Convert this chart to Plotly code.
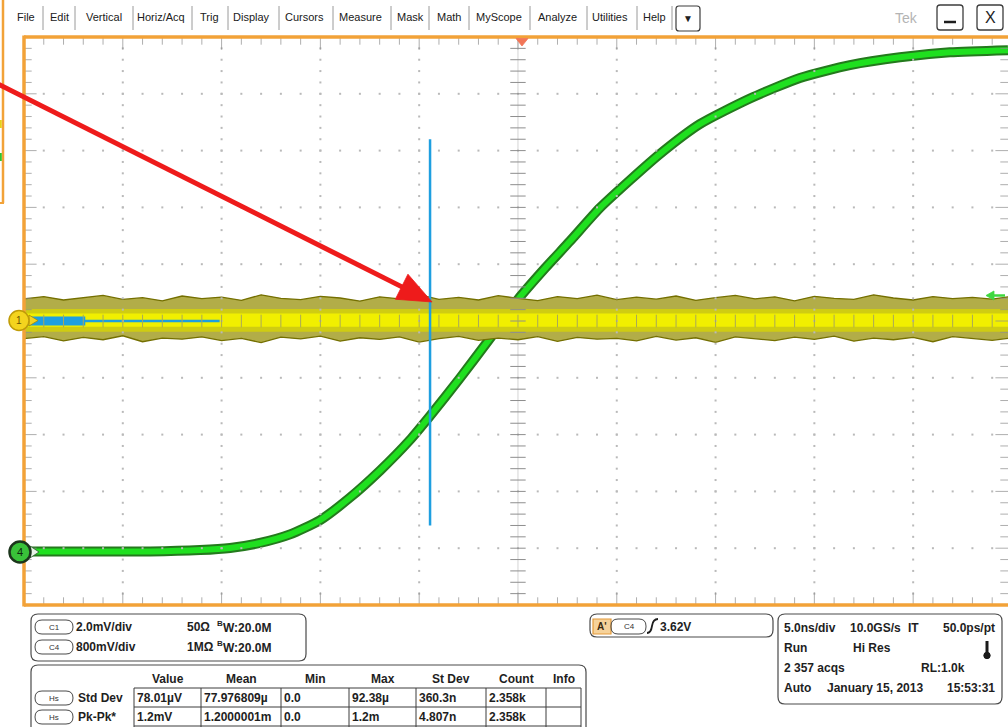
import plotly.graph_objects as go

# ---------------- acquisition settings ----------------
TIME_PER_DIV = 5.0          # ns/div
CH1_PER_DIV = 2.0           # mV/div
CH4_PER_DIV = 0.8           # V/div
CH4_GROUND_DIV = -4.07      # ch4 ground marker, divisions from centre
T_LEFT, T_RIGHT = -25.0, 24.8

# ---------------- channel 4: rising edge (ns, V) ----------------
ch4_t = [-25.0, -21.15, -18.62, -16.09, -14.57, -13.06, -11.54, -10.02, -8.50, -6.98,
         -5.47, -4.45, -2.94, -1.42, 0.0, 1.37, 2.63, 4.15, 5.67, 7.19,
         9.21, 11.74, 14.27, 16.80, 19.33, 21.86, 24.80]
ch4_v = [0.01, 0.01, 0.01, 0.03, 0.06, 0.13, 0.25, 0.45, 0.77, 1.15,
         1.58, 1.92, 2.45, 3.01, 3.56, 4.00, 4.38, 4.85, 5.24, 5.61,
         6.03, 6.39, 6.68, 6.86, 6.97, 7.04, 7.07]

# ---------------- channel 1: noise band envelope (ns, mV) ----------------
ch1_t = [-25, -24, -23, -22, -21, -20, -19, -18, -17, -16, -15, -14, -13, -12, -11,
         -10, -9, -8, -7, -6, -5, -4, -3, -2, -1, 0, 1, 2, 3, 4, 5, 6, 7, 8, 9,
         10, 11, 12, 13, 14, 15, 16, 17, 18, 19, 20, 21, 22, 23, 24, 24.8]
ch1_upper = [0.78, 0.86, 0.74, 0.83, 0.90, 0.76, 0.82, 0.71, 0.88, 0.79,
             0.84, 0.73, 0.92, 0.80, 0.75, 0.87, 0.81, 0.70, 0.85, 0.78,
             0.93, 0.76, 0.83, 0.74, 0.89, 0.80, 0.72, 0.86, 0.79, 0.91,
             0.75, 0.84, 0.77, 0.88, 0.73, 0.82, 0.90, 0.78, 0.85, 0.71,
             0.87, 0.80, 0.76, 0.92, 0.81, 0.74, 0.86, 0.79, 0.83, 0.77, 0.85]
ch1_lower = [-0.62, -0.55, -0.70, -0.58, -0.66, -0.52, -0.73, -0.60, -0.64, -0.56,
             -0.69, -0.61, -0.76, -0.57, -0.63, -0.53, -0.71, -0.59, -0.65, -0.56,
             -0.74, -0.62, -0.54, -0.68, -0.60, -0.66, -0.55, -0.72, -0.58, -0.64,
             -0.61, -0.70, -0.54, -0.67, -0.59, -0.75, -0.56, -0.63, -0.69, -0.57,
             -0.65, -0.53, -0.71, -0.60, -0.66, -0.58, -0.73, -0.55, -0.62, -0.68, -0.61]
ch1_mid = (-0.38, 0.42)     # dense part of the persistence band, mV
ch1_core = (-0.20, 0.26)    # brightest part, mV

# ---------------- histogram box / cursor ----------------
hist_t = -4.45                 # ns
hist_span = (-7.2, 6.4)        # mV
hist_bar_end = -21.9           # ns, wide part of the horizontal histogram
hist_line_end = -15.1          # ns
arrow_tip_mv = 0.67            # where the pointer meets the histogram box, mV

# ---------------- readout text ----------------
menu_items = ["File", "Edit", "Vertical", "Horiz/Acq", "Trig", "Display", "Cursors",
              "Measure", "Mask", "Math", "MyScope", "Analyze", "Utilities", "Help"]
menu_x = [26, 59.5, 103.5, 161, 209, 251.5, 304, 360.5, 410, 449, 499, 557.5, 610, 654]
menu_sep = [43, 75, 133, 192, 228, 279, 333, 391, 429, 469, 530, 587, 637, 672]

vert_rows = [("C1", "2.0mV/div", "50Ω"), ("C4", "800mV/div", "1MΩ")]
bw_text = "W:20.0M"

meas_headers = ["Value", "Mean", "Min", "Max", "St Dev", "Count", "Info"]
meas_rows = [("Std Dev", ["78.01µV", "77.976809µ", "0.0", "92.38µ", "360.3n", "2.358k", ""]),
             ("Pk-Pk*", ["1.2mV", "1.2000001m", "0.0", "1.2m", "4.807n", "2.358k", ""])]
meas_cols = [134, 201, 281, 349, 416, 486, 546, 581]

trig_source, trig_level = "C4", "3.62V"
timebase_lines = [
    [(783, "5.0ns/div", "left"), (849, "10.0GS/s", "left"), (907, "IT", "left"),
     (996, "50.0ps/pt", "right")],
    [(783, "Run", "left"), (852, "Hi Res", "left")],
    [(783, "2 357 acqs", "left"), (966, "RL:1.0k", "right")],
    [(783, "Auto", "left"), (826, "January 15, 2013", "left"), (996, "15:53:31", "right")],
]

# ---------------- page geometry (pixels) ----------------
W, H = 1008, 727
L, T, PW, PH = 24, 37, 984, 568
ORANGE = "#f2a238"
FONT = "Liberation Sans"


def P(x, y):
    return (x - L) / PW, (T + PH - y) / PH


def t_to_px(t):
    return L + (t - T_LEFT) / (T_RIGHT - T_LEFT) * PW


def mv_to_py(mv):
    return T + PH / 2 - mv / CH1_PER_DIV * PH / 10


shapes, annos = [], []


def text(x, y, s, size=12, color="#1e1e1e", anchor="left", bold=True):
    xp, yp = P(x, y)
    annos.append(dict(x=xp, y=yp, xref="paper", yref="paper",
                      text=f"<b>{s}</b>" if bold else s, showarrow=False,
                      xanchor=anchor, yanchor="middle", borderpad=0,
                      font=dict(size=size, color=color, family=FONT)))


def seg(x0, y0, x1, y1, color, width=1.0):
    a, b = P(x0, y0), P(x1, y1)
    shapes.append(dict(type="line", xref="paper", yref="paper", x0=a[0], y0=a[1],
                       x1=b[0], y1=b[1], line=dict(color=color, width=width)))


def rrect(x0, y0, x1, y1, r, color="#4a4a4a", width=1.2, fill="rgba(0,0,0,0)"):
    def p(x, y):
        a = P(x, y)
        return f"{a[0]:.5f},{a[1]:.5f}"
    path = (f"M {p(x0 + r, y0)} L {p(x1 - r, y0)} Q {p(x1, y0)} {p(x1, y0 + r)} "
            f"L {p(x1, y1 - r)} Q {p(x1, y1)} {p(x1 - r, y1)} L {p(x0 + r, y1)} "
            f"Q {p(x0, y1)} {p(x0, y1 - r)} L {p(x0, y0 + r)} Q {p(x0, y0)} {p(x0 + r, y0)} Z")
    shapes.append(dict(type="path", xref="paper", yref="paper", path=path,
                       line=dict(color=color, width=width), fillcolor=fill))


def poly(pts, fill, color=None, width=0.8):
    path = "M " + " L ".join("{:.5f},{:.5f}".format(*P(x, y)) for x, y in pts) + " Z"
    shapes.append(dict(type="path", xref="paper", yref="paper", path=path,
                       fillcolor=fill, line=dict(color=color or fill, width=width)))


def circle(cx, cy, r, fill, color, width):
    a, b = P(cx - r, cy + r), P(cx + r, cy - r)
    shapes.append(dict(type="circle", xref="paper", yref="paper", x0=a[0], y0=a[1],
                       x1=b[0], y1=b[1], fillcolor=fill, line=dict(color=color, width=width)))


def arrow(x0, y0, x1, y1, color, width, head_len, head_half):
    dx, dy = x1 - x0, y1 - y0
    n = (dx * dx + dy * dy) ** 0.5
    ux, uy = dx / n, dy / n
    bx, by = x1 - head_len * ux, y1 - head_len * uy
    seg(x0, y0, bx + 2 * ux, by + 2 * uy, color, width)
    poly([(x1, y1), (bx - head_half * uy, by + head_half * ux),
          (bx + head_half * uy, by - head_half * ux)], color)


fig = go.Figure()

# ---------------- graticule (y in divisions) ----------------
major_t = [k * TIME_PER_DIV for k in (-4, -3, -2, -1, 1, 2, 3, 4)]
minor_t = [T_LEFT + k * TIME_PER_DIV / 5 for k in range(50)]
major_d = [-4, -3, -2, -1, 1, 2, 3, 4]
minor_d = [round(-5 + k * 0.2, 3) for k in range(51)]


def is_major(v):
    return abs(round(v) - v) < 1e-6


# centre cross lines, beneath the traces
fig.add_trace(go.Scatter(x=[0, 0], y=[-5, 5], mode="lines", hoverinfo="skip",
                         line=dict(color="#d4d4d4", width=1)))
fig.add_trace(go.Scatter(x=[T_LEFT, T_RIGHT], y=[0, 0], mode="lines", hoverinfo="skip",
                         line=dict(color="#d4d4d4", width=1)))

# ---------------- channel 4 (green), overlay y2 ----------------
fig.add_trace(go.Scatter(x=ch4_t, y=ch4_v, yaxis="y2", mode="lines", hoverinfo="skip",
                         line=dict(color="#247a1d", width=10, shape="spline", smoothing=0.6)))
fig.add_trace(go.Scatter(x=ch4_t, y=ch4_v, yaxis="y2", mode="lines", hoverinfo="skip",
                         line=dict(color="#1fe01f", width=6, shape="spline", smoothing=0.6)))

# ---------------- channel 1 (yellow persistence band), overlay y3 ----------------
fig.add_trace(go.Scatter(x=ch1_t, y=ch1_lower, yaxis="y3", mode="lines", hoverinfo="skip",
                         line=dict(color="#746f00", width=1.3)))
fig.add_trace(go.Scatter(x=ch1_t, y=ch1_upper, yaxis="y3", mode="lines", fill="tonexty",
                         hoverinfo="skip", fillcolor="#b2ad48", line=dict(color="#746f00", width=1.3)))
fig.add_trace(go.Scatter(x=[T_LEFT, T_RIGHT], y=[ch1_mid[0]] * 2, yaxis="y3", mode="lines",
                         hoverinfo="skip", line=dict(width=0, color="#cfcc12")))
fig.add_trace(go.Scatter(x=[T_LEFT, T_RIGHT], y=[ch1_mid[1]] * 2, yaxis="y3", mode="lines",
                         fill="tonexty", hoverinfo="skip", fillcolor="#cfcc12",
                         line=dict(width=0, color="#cfcc12")))
fig.add_trace(go.Scatter(x=[T_LEFT, T_RIGHT], y=[ch1_core[0]] * 2, yaxis="y3", mode="lines",
                         hoverinfo="skip", line=dict(width=0, color="#f1ef00")))
fig.add_trace(go.Scatter(x=[T_LEFT, T_RIGHT], y=[ch1_core[1]] * 2, yaxis="y3", mode="lines",
                         fill="tonexty", hoverinfo="skip", fillcolor="#f1ef00",
                         line=dict(width=0, color="#f1ef00")))

# histogram (blue)
fig.add_trace(go.Scatter(x=[hist_t, hist_t], y=list(hist_span), yaxis="y3", mode="lines",
                         hoverinfo="skip", line=dict(color="#1e9fe0", width=2.5)))
fig.add_trace(go.Scatter(x=[T_LEFT, hist_line_end], y=[0, 0], yaxis="y3", mode="lines",
                         hoverinfo="skip", line=dict(color="#1e9fe0", width=2.5)))
fig.add_trace(go.Scatter(x=[T_LEFT, hist_bar_end], y=[0, 0], yaxis="y3", mode="lines",
                         hoverinfo="skip", line=dict(color="#1e9fe0", width=9)))

# ---------------- graticule dots and ticks, on top (overlay y4) ----------------
dot_x, dot_y = [], []
for tx in major_t:
    for dv in minor_d[1:-1]:
        dot_x.append(tx); dot_y.append(dv)
for dv in major_d:
    for tt in minor_t[1:]:
        dot_x.append(tt); dot_y.append(dv)
fig.add_trace(go.Scatter(x=dot_x, y=dot_y, yaxis="y4", mode="markers", hoverinfo="skip",
                         marker=dict(symbol="square", size=2, color="#b9b9b9")))
fig.add_trace(go.Scatter(x=[0] * len(minor_d), y=minor_d, yaxis="y4", mode="markers",
                         hoverinfo="skip",
                         marker=dict(symbol="line-ew", size=11, line=dict(width=1, color="#8e8e8e"))))
fig.add_trace(go.Scatter(x=minor_t, y=[0] * len(minor_t), yaxis="y4", mode="markers",
                         hoverinfo="skip",
                         marker=dict(symbol="line-ns", size=9, line=dict(width=1, color="#a8a85a"))))
for xe in (T_LEFT, T_RIGHT):
    fig.add_trace(go.Scatter(x=[xe] * len(minor_d), y=minor_d, yaxis="y4", mode="markers",
                             hoverinfo="skip",
                             marker=dict(symbol="line-ew",
                                         size=[18 if is_major(v) else 11 for v in minor_d],
                                         line=dict(width=1, color="#8e8e8e"))))
for ye in (-5, 5):
    fig.add_trace(go.Scatter(x=minor_t, y=[ye] * len(minor_t), yaxis="y4", mode="markers",
                             hoverinfo="skip",
                             marker=dict(symbol="line-ns",
                                         size=[18 if is_major(v / TIME_PER_DIV) else 11 for v in minor_t],
                                         line=dict(width=1, color="#8e8e8e"))))

# ---------------- frame and markers ----------------
seg(L, T, W, T, ORANGE, 3.5)
seg(L, T - 1.5, L, T + PH + 1.5, ORANGE, 3.5)
seg(L, T + PH, W, T + PH, ORANGE, 3.5)

# trigger position marker
poly([(516, 38.5), (528, 38.5), (522, 46)], "#f27658")
# trigger level arrow on the right edge
seg(992, 295.5, 1005, 295.5, "#3fd83f", 2.5)
poly([(986, 295.5), (994, 291), (994, 300)], "#3fd83f")

# channel ground markers
poly([(29, 315), (29, 326), (38, 320.5)], "#f4d41e", "#a68a00")
circle(19, 320.5, 10, "#f4d41e", "#c09c08", 1.5)
text(19, 320.5, "1", size=10, color="#6b5400", anchor="center", bold=False)
poly([(30, 546), (30, 558), (39, 552)], "#e8f4e8", "#2d5a2d")
circle(20, 552, 10.5, "#39c239", "#1c361c", 2.5)
text(20, 552, "4", size=11, color="#0e2a0e", anchor="center", bold=False)

# window edge behind, at the far left
seg(3, 0, 3, 203, ORANGE, 2.5)
seg(0, 203, 4, 203, ORANGE, 2)
seg(0.8, 120, 0.8, 128, "#e6d21a", 2)
seg(0.8, 153, 0.8, 161, "#2fc42f", 2)

# red pointer to the histogram box
tip_x, tip_y = t_to_px(hist_t) + 2, mv_to_py(arrow_tip_mv)
arrow(-2, 84, tip_x, tip_y, "#ee1b1b", 5, 34, 14)

# ---------------- menu bar ----------------
for s, x in zip(menu_items, menu_x):
    text(x, 17.5, s, size=11, color="#202020", anchor="center", bold=False)
for x in menu_sep:
    seg(x, 6, x, 30, "#9a9a9a", 1)
rrect(676, 6, 700, 31, 3, "#3c3c3c", 1.2, "#ffffff")
text(688, 18.5, "▼", size=10, color="#202020", anchor="center", bold=False)
text(906, 18, "Tek", size=14, color="#b4b4b4", anchor="center", bold=False)
rrect(937, 5, 963, 30, 3, "#3c3c3c", 1.3, "#ffffff")
seg(944, 22, 956, 22, "#1e1e1e", 2.5)
rrect(977, 5, 1003, 30, 3, "#3c3c3c", 1.3, "#ffffff")
text(990, 17.5, "X", size=16, color="#1e1e1e", anchor="center", bold=False)

# ---------------- vertical readout ----------------
rrect(31, 614, 306, 661, 7)
for i, (ch, scale, imp) in enumerate(vert_rows):
    yy = 627 + 20 * i
    rrect(35, yy - 7, 73, yy + 7, 7, "#4a4a4a", 1.0)
    text(54, yy, ch, size=8, color="#333333", anchor="center", bold=False)
    text(75, yy, scale, size=12)
    text(186, yy, imp, size=12)
    text(216, yy - 4, "B", size=8)
    text(222, yy + 1, bw_text, size=12)

# ---------------- measurement table ----------------
rrect(31, 665, 586, 745, 7)
for j, h in enumerate(meas_headers):
    text((meas_cols[j] + meas_cols[j + 1]) / 2, 679, h, size=12, anchor="center")
for yy in (688, 707, 726):
    seg(meas_cols[0], yy, meas_cols[-1], yy, "#3c3c3c", 1)
for x in meas_cols:
    seg(x, 688, x, 727, "#3c3c3c", 1)
for i, (label, vals) in enumerate(meas_rows):
    yy = 698 + 19 * i
    rrect(35, yy - 7, 73, yy + 7, 7, "#4a4a4a", 1.0)
    text(54, yy, "Hs", size=8, color="#333333", anchor="center", bold=False)
    text(77, yy, label, size=12)
    for j, v in enumerate(vals):
        if v:
            text(meas_cols[j] + 2, yy, v, size=12)

# ---------------- trigger readout ----------------
rrect(590, 614, 773, 637, 7)
shapes.append(dict(type="rect", xref="paper", yref="paper",
                   x0=P(593, 634)[0], y0=P(593, 634)[1], x1=P(611, 619)[0], y1=P(611, 619)[1],
                   fillcolor="#f6d29a", line=dict(color="#e39a3a", width=1.2)))
text(602, 626.5, "A'", size=10, color="#3a2a10", anchor="center")
rrect(611, 619, 646, 634, 7, "#4a4a4a", 1.0)
text(629, 626.5, trig_source, size=8, color="#333333", anchor="center", bold=False)
shapes.append(dict(type="path", xref="paper", yref="paper",
                   path="M {:.5f},{:.5f} Q {:.5f},{:.5f} {:.5f},{:.5f} Q {:.5f},{:.5f} {:.5f},{:.5f}".format(
                       *P(647, 633), *P(651, 633), *P(652, 626), *P(653, 619), *P(658, 619)),
                   line=dict(color="#1e1e1e", width=1.8)))
text(659, 626.5, trig_level, size=12)

# ---------------- timebase readout ----------------
rrect(778, 614, 1002, 704, 7)
for i, row in enumerate(timebase_lines):
    yy = 628 + 20 * i
    for x, s, anchor in row:
        text(x, yy, s, size=12, anchor=anchor)
# thermometer icon
seg(987, 641, 987, 653, "#1a1a1a", 3)
circle(987, 655.5, 3.2, "#1a1a1a", "#1a1a1a", 1)

hidden = dict(showgrid=False, zeroline=False, showticklabels=False, ticks="", fixedrange=True)
fig.update_layout(
    width=W, height=H,
    margin=dict(l=L, r=W - L - PW, t=T, b=H - T - PH, pad=0),
    paper_bgcolor="white", plot_bgcolor="white", showlegend=False,
    xaxis=dict(range=[T_LEFT, T_RIGHT], **hidden),
    yaxis=dict(range=[-5, 5], **hidden),
    yaxis2=dict(range=[(-5 - CH4_GROUND_DIV) * CH4_PER_DIV, (5 - CH4_GROUND_DIV) * CH4_PER_DIV],
                overlaying="y", **hidden),
    yaxis3=dict(range=[-5 * CH1_PER_DIV, 5 * CH1_PER_DIV], overlaying="y", **hidden),
    yaxis4=dict(range=[-5, 5], overlaying="y", **hidden),
    shapes=shapes, annotations=annos,
)

fig.write_html("out.html", config={"displayModeBar": False})
